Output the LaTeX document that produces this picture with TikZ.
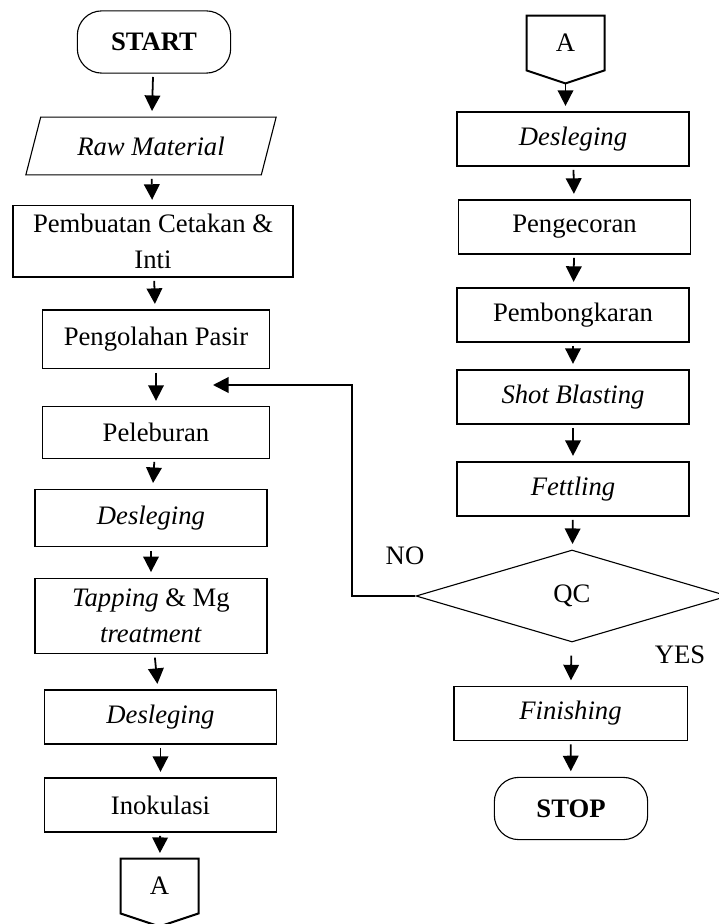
\documentclass[tikz,border=0pt]{standalone}
\usepackage{fontspec}
\setmainfont{Liberation Serif}
\usetikzlibrary{arrows.meta,shapes.geometric,calc}

\begin{document}
\begin{tikzpicture}[
  x=0.45pt, y=-0.45pt,
  font=\fontsize{12}{16}\selectfont,
  >={Triangle[width=7pt,length=7pt]},
  box/.style={rectangle, draw, line width=0.5pt, minimum width=104.4pt,
              minimum height=24.3pt, align=center, inner sep=2pt},
  term/.style={rectangle, rounded corners=11pt, draw, line width=0.5pt,
               minimum width=69pt, minimum height=28pt,
               font=\fontsize{12}{16}\selectfont\bfseries},
  io/.style={trapezium, trapezium left angle=72, trapezium right angle=108,
             trapezium stretches=true, draw, line width=0.5pt,
             minimum width=113.4pt, minimum height=26pt},
  cond/.style={diamond, draw, line width=0.5pt, inner sep=0pt,
               minimum width=140.4pt, minimum height=41.4pt},
  con/.style={rectangle, minimum width=34.7pt, minimum height=24.3pt, inner sep=0pt},
  conline/.style={draw, line width=0.9pt, line join=miter},
  arr/.style={->, line width=0.8pt, shorten <=1.5pt, shorten >=2.5pt},
  back/.style={->, line width=0.9pt},
  lab/.style={inner sep=1pt}
]
\useasboundingbox (0,0) rectangle (718,924);

%% left column
\node[term] (start) at (154, 42) {START};
\node[io] (raw) at (151, 146) {\textit{Raw Material}};
\node[box, minimum width=126pt, minimum height=32pt] (cetak) at (153, 241.5) {Pembuatan Cetakan \&\\Inti};
\node[box, minimum width=102pt, minimum height=26.5pt] (pasir) at (156, 339.5) {Pengolahan Pasir};
\node[box, minimum width=102pt, minimum height=23pt] (lebur) at (156, 432.5) {Peleburan};
\node[box, minimum height=26pt] (desA) at (151, 518) {\textit{Desleging}};
\node[box, minimum height=34pt] (tap) at (151, 616) {\textit{Tapping} \& Mg\\\textit{treatment}};
\node[box] (desB) at (160.5, 717) {\textit{Desleging}};
\node[box] (inok) at (160.5, 805) {Inokulasi};
\node[con] (conL) at (159.5, 886) {A};
\coordinate (conLtip) at ($(conL.south)+(0,13)$);
\draw[conline] (conL.north west) -- (conL.north east) -- (conL.south east)
  -- (conLtip) -- (conL.south west) -- cycle;

%% right column
\node[con] (conR) at (565.5, 43) {A};
\coordinate (conRtip) at ($(conR.south)+(0,13)$);
\draw[conline] (conR.north west) -- (conR.north east) -- (conR.south east)
  -- (conRtip) -- (conR.south west) -- cycle;
\node[box] (desC) at (573, 139) {\textit{Desleging}};
\node[box] (cor) at (574.5, 227) {Pengecoran};
\node[box] (bong) at (573, 315) {Pembongkaran};
\node[box] (shot) at (573, 397) {\textit{Shot Blasting}};
\node[box] (fet) at (573, 489) {\textit{Fettling}};
\node[cond] (qc) at (572, 596) {QC};
\node[box, minimum width=104.9pt] (fin) at (570.5, 713.5) {\textit{Finishing}};
\node[term] (stop) at (571, 808.5) {STOP};

\node[lab] (no) at (405, 556) {NO};
\node[lab] (yes) at (680, 655) {YES};
\coordinate (fbend) at (213, 385);

%% edges
\draw[arr] (start) -- (raw);
\draw[arr] (raw) -- (cetak);
\draw[arr] (cetak) -- (pasir);
\draw[arr] (pasir) -- (lebur);
\draw[arr] (lebur) -- (desA);
\draw[arr] (desA) -- (tap);
\draw[arr] (tap) -- (desB);
\draw[arr] (desB) -- (inok);
\draw[arr] (inok) -- (conL);
\draw[arr, shorten <=0pt] (conRtip) -- (conRtip |- desC.north);
\draw[arr] (desC) -- (cor);
\draw[arr] (cor) -- (bong);
\draw[arr] (bong) -- (shot);
\draw[arr] (shot) -- (fet);
\draw[arr] (fet) -- (qc);
\draw[arr, shorten <=6pt] (qc) -- (fin);
\draw[arr] (fin) -- (stop);

%% loop back from QC
\draw[back] (qc.west) -| (352, 385) -- (fbend);
\end{tikzpicture}
\end{document}
